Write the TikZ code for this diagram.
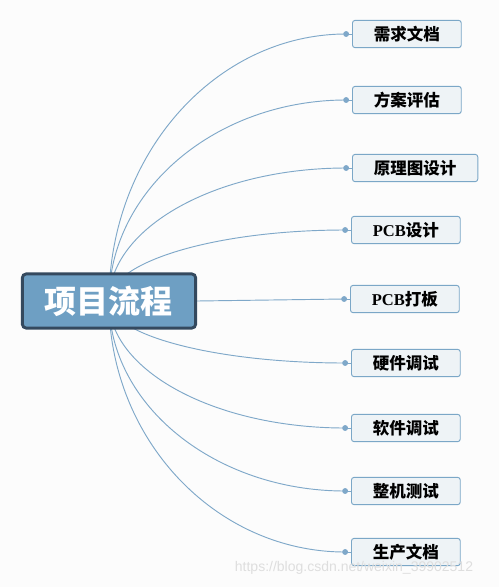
\documentclass[tikz,border=0pt]{standalone}
\usepackage{fontspec}
\setmainfont{Liberation Serif}
\newfontfamily\cjk{Noto Sans CJK SC}
\newfontfamily\marksans{Liberation Sans}
\usepackage{tikz}
\usetikzlibrary{positioning,calc,backgrounds}

\definecolor{rootfill}{HTML}{6E9FC3}
\definecolor{rootline}{HTML}{34495E}
\definecolor{leaffill}{HTML}{EEF3F6}
\definecolor{leafline}{HTML}{7BA7C7}
\definecolor{branchcol}{HTML}{7FA8C9}
\definecolor{pagebg}{HTML}{FCFCFC}

\tikzset{
  root/.style={draw=rootline, line width=2.2pt, fill=rootfill, rounded corners=3pt,
    minimum width=130pt, minimum height=40.7pt, text=white,
    font=\cjk\bfseries\fontsize{24}{24}\selectfont},
  leaf/.style={draw=leafline, line width=0.7pt, fill=leaffill, rounded corners=2pt,
    minimum height=20.5pt, inner xsep=16pt, anchor=west,
    font=\bfseries\fontsize{12.4}{12.4}\selectfont},
  link/.style={draw=branchcol, line width=0.7pt},
  swoop/.style={to path={.. controls ($(\tikztostart)!0.55!(\tikztostart|-\tikztotarget)$)
    and ($(\tikztotarget)!0.55!(\tikztostart|-\tikztotarget)$) .. (\tikztotarget)}},
  knob/.style={circle, fill=branchcol, inner sep=0pt, minimum size=4.4pt}
}

\begin{document}
\begin{tikzpicture}[x=0.75pt,y=-0.75pt]
\useasboundingbox (0,0) rectangle (499,587);

\node[root] (root) at (109,301) {项目流程};

% right side topics
\node[leaf] (req)   at (352,34)  {\cjk 需求文档};
\node[leaf] (plan)  at (352,100) {\cjk 方案评估};
\node[leaf] (sch)   at (352,168) {\cjk 原理图设计};
\node[leaf] (pcb)   at (351,230) {PCB{\cjk 设计}};
\node[leaf] (fab)   at (350,299) {PCB{\cjk 打板}};
\node[leaf] (hw)    at (351,363) {\cjk 硬件调试};
\node[leaf] (sw)    at (351,428) {\cjk 软件调试};
\node[leaf] (sys)   at (351,491) {\cjk 整机测试};
\node[leaf] (prod)  at (351,552) {\cjk 生产文档};

\node[knob, left=2pt of req]  (req-k)  {};
\node[knob, left=2pt of plan] (plan-k) {};
\node[knob, left=2pt of sch]  (sch-k)  {};
\node[knob, left=2pt of pcb]  (pcb-k)  {};
\node[knob, left=2pt of fab]  (fab-k)  {};
\node[knob, left=2pt of hw]   (hw-k)   {};
\node[knob, left=2pt of sw]   (sw-k)   {};
\node[knob, left=2pt of sys]  (sys-k)  {};
\node[knob, left=2pt of prod] (prod-k) {};

\node[text=black!13, font=\marksans\fontsize{10.5}{10.5}\selectfont] (mark) at (354,568) {https://blog.csdn.net/weixin\_39902512};

\begin{scope}[on background layer]
\fill[pagebg] (0,0) rectangle (499,587);
\draw[link, swoop] (root.center) to (req-k.center);
\draw[link, swoop] (root.center) to (plan-k.center);
\draw[link, swoop] (root.center) to (sch-k.center);
\draw[link, swoop] (root.center) to (pcb-k.center);
\draw[link] (root.east) -- (fab-k.center);
\draw[link, swoop] (root.center) to (hw-k.center);
\draw[link, swoop] (root.center) to (sw-k.center);
\draw[link, swoop] (root.center) to (sys-k.center);
\draw[link, swoop] (root.center) to (prod-k.center);
\end{scope}

% short stubs from knob to topic
\foreach \t in {req,plan,sch,pcb,fab,hw,sw,sys,prod}
  \draw[link] (\t-k) -- (\t);
\end{tikzpicture}
\end{document}
